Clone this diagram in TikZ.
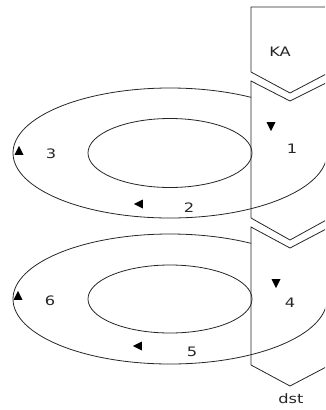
\documentclass[tikz,border=0pt]{standalone}
\usepackage{fontspec}
\setmainfont{DejaVu Sans}
\usetikzlibrary{shapes.geometric}
\newcommand{\wtxt}[1]{\scalebox{1.25}[1]{#1}}
\begin{document}
\begin{tikzpicture}[x=1pt,y=-1pt,line width=0.8pt,
  band/.style={draw=black!85,fill=white,line join=miter},
  ring/.style={draw=black!85},
  tri/.style={isosceles triangle,isosceles triangle stretches,fill=black,inner sep=0pt,minimum width=9pt,minimum height=9pt},
  lbl/.style={font=\fontsize{13}{15}\selectfont,text=black!85,inner sep=0pt}]
\useasboundingbox (0,0) rectangle (325,410);
\clip (0,0) rectangle (325,410);
% band segments
\draw[band] (251,7) -- (330,7) -- (330,72) -- (290,93) -- (251,72) -- cycle;
\draw[band] (251,81) -- (290,101) -- (330,81) -- (330,218) -- (290,240) -- (251,218) -- cycle;
\draw[band] (251,227) -- (290,248) -- (330,227) -- (330,365) -- (290,386) -- (251,365) -- cycle;
% upper ring
\draw[ring] (327,153) arc[start angle=0,end angle=301.1,x radius=157,y radius=65];
\draw[ring] (170,153) ellipse[x radius=82,y radius=34.5];
% lower ring
\draw[ring] (327,299) arc[start angle=0,end angle=301.1,x radius=157,y radius=65];
\draw[ring] (170,299) ellipse[x radius=82,y radius=34];
% arrows
\node[tri,shape border rotate=270] (d1) at (271,125) {};
\node[tri,shape border rotate=90] (u1) at (19,152) {};
\node[tri,shape border rotate=180] (l1) at (140,204) {};
\node[tri,shape border rotate=270] (d2) at (276,282) {};
\node[tri,shape border rotate=90] (u2) at (18,297) {};
\node[tri,shape border rotate=180] (l2) at (139,346) {};
% labels
\node[lbl] (ka) at (280,52) {\wtxt{KA}};
\node[lbl] (n1) at (292,149) {\wtxt{1}};
\node[lbl] (n2) at (189,207.5) {\wtxt{2}};
\node[lbl] (n3) at (51,154) {\wtxt{3}};
\node[lbl] (n4) at (290,303) {\wtxt{4}};
\node[lbl] (n5) at (192,352) {\wtxt{5}};
\node[lbl] (n6) at (50,301) {\wtxt{6}};
\node[lbl,anchor=base] (dst) at (291,403) {\wtxt{dst}};
\end{tikzpicture}
\end{document}
